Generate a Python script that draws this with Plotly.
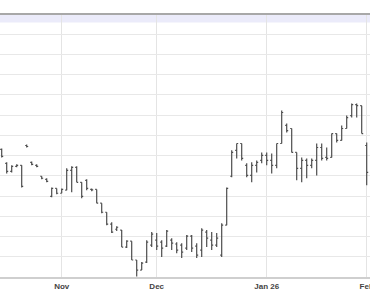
import plotly.graph_objects as go

dates = [
    "2025-10-16", "2025-10-17", "2025-10-20", "2025-10-21", "2025-10-22", "2025-10-23",
    "2025-10-24", "2025-10-27", "2025-10-28", "2025-10-29", "2025-10-30", "2025-10-31",
    "2025-11-03", "2025-11-04", "2025-11-05", "2025-11-06", "2025-11-07", "2025-11-10",
    "2025-11-11", "2025-11-12", "2025-11-13", "2025-11-14", "2025-11-17", "2025-11-18",
    "2025-11-19", "2025-11-20", "2025-11-21", "2025-11-24", "2025-11-25", "2025-11-26",
    "2025-11-28", "2025-12-01", "2025-12-02", "2025-12-03", "2025-12-04", "2025-12-05",
    "2025-12-08", "2025-12-09", "2025-12-10", "2025-12-11", "2025-12-12", "2025-12-15",
    "2025-12-16", "2025-12-17", "2025-12-18", "2025-12-19", "2025-12-22", "2025-12-23",
    "2025-12-24", "2025-12-26", "2025-12-29", "2025-12-30", "2025-12-31", "2026-01-02",
    "2026-01-05", "2026-01-06", "2026-01-07", "2026-01-08", "2026-01-09", "2026-01-12",
    "2026-01-13", "2026-01-14", "2026-01-15", "2026-01-16", "2026-01-20", "2026-01-21",
    "2026-01-22", "2026-01-23", "2026-01-26", "2026-01-27", "2026-01-28", "2026-01-29",
    "2026-01-30", "2026-02-02",
]

open_ = [
    26.31, 25.62, 25.22, 25.47, 25.52, 26.50, 25.67, 25.52, 24.98, 24.83, 23.99, 24.38,
    24.14, 24.29, 25.27, 25.42, 24.68, 24.78, 24.33, 24.33, 23.65, 23.20, 22.61, 22.36,
    22.32, 21.48, 21.77, 20.84, 20.34, 20.74, 21.58, 21.82, 21.72, 21.53, 21.82, 21.63,
    21.58, 21.43, 22.02, 21.53, 21.33, 22.22, 21.82, 21.58, 21.08, 22.56, 24.98, 26.26,
    26.60, 25.52, 25.02, 25.52, 25.76, 26.01, 25.76, 25.52, 26.60, 27.49, 27.34, 26.16,
    25.37, 25.76, 25.52, 25.76, 26.40, 25.91, 25.91, 27.09, 26.75, 27.34, 27.98, 28.52,
    28.47, 26.50,
]
high = [
    26.35, 25.67, 25.52, 25.57, 25.52, 26.55, 25.71, 25.57, 24.98, 24.88, 24.43, 24.38,
    24.38, 25.37, 25.47, 25.47, 24.68, 24.83, 24.38, 24.33, 23.65, 23.20, 22.71, 22.51,
    22.32, 21.82, 21.77, 20.84, 20.74, 21.82, 22.22, 22.17, 21.82, 22.32, 21.92, 21.72,
    21.67, 22.07, 22.07, 21.67, 22.41, 22.32, 22.22, 22.17, 22.66, 24.43, 26.26, 26.60,
    26.60, 25.62, 25.67, 25.76, 26.16, 26.16, 26.11, 26.60, 28.23, 27.59, 27.34, 26.16,
    25.91, 25.86, 25.86, 26.60, 26.60, 26.40, 27.09, 27.09, 27.49, 27.98, 28.57, 28.57,
    28.47, 26.65,
]
low = [
    25.91, 25.12, 25.17, 25.42, 24.43, 26.40, 25.52, 25.42, 24.83, 24.68, 23.94, 24.09,
    24.14, 24.29, 24.19, 24.68, 23.89, 24.29, 24.24, 23.65, 23.15, 22.56, 22.17, 22.27,
    21.48, 21.43, 20.84, 20.02, 20.34, 20.69, 21.48, 21.33, 20.99, 21.48, 21.33, 21.18,
    20.94, 21.33, 21.23, 20.94, 20.99, 21.48, 21.33, 21.48, 20.99, 22.56, 24.93, 25.86,
    25.76, 24.93, 24.68, 25.17, 25.62, 25.52, 25.12, 25.37, 26.60, 27.14, 26.16, 24.78,
    24.68, 24.88, 25.37, 25.02, 25.76, 25.76, 25.91, 26.65, 26.75, 27.34, 27.88, 27.88,
    27.09, 24.53,
]
close = [
    25.96, 25.22, 25.47, 25.52, 24.48, 26.45, 25.57, 25.47, 24.88, 24.73, 24.38, 24.14,
    24.33, 25.27, 25.42, 24.68, 23.99, 24.38, 24.31, 23.65, 23.20, 22.61, 22.22, 22.46,
    21.48, 21.77, 20.84, 20.34, 20.69, 21.72, 22.12, 21.53, 21.43, 22.27, 21.67, 21.33,
    21.23, 22.02, 21.43, 21.08, 22.32, 21.92, 21.58, 21.92, 22.56, 24.38, 26.16, 26.60,
    25.86, 25.02, 25.52, 25.67, 26.01, 25.76, 25.52, 26.60, 28.13, 27.24, 26.16, 25.37,
    25.76, 25.52, 25.76, 26.40, 25.86, 25.86, 27.09, 26.75, 27.34, 27.88, 28.52, 28.47,
    27.09, 25.17,
]

tick_vals = ["2025-11-03", "2025-12-01", "2026-01-02", "2026-02-02"]
tick_text = ["Nov", "Dec", "Jan 26", "Feb"]
holidays = ["2025-11-27", "2025-12-25", "2026-01-01", "2026-01-19"]

bar_color = "#4d4d4d"

fig = go.Figure(
    go.Ohlc(
        x=dates, open=open_, high=high, low=low, close=close,
        increasing=dict(line=dict(color=bar_color, width=1.2)),
        decreasing=dict(line=dict(color=bar_color, width=1.2)),
        tickwidth=0.3,
        showlegend=False,
    )
)

fig.update_layout(
    width=370, height=297,
    margin=dict(l=0, r=0, t=14, b=20, autoexpand=False),
    paper_bgcolor="white", plot_bgcolor="white",
    xaxis=dict(
        type="date",
        automargin=False,
        range=["2025-10-15 15:50", "2026-02-02 15:50"],
        rangebreaks=[dict(bounds=["sat", "mon"]), dict(values=holidays)],
        rangeslider=dict(visible=False),
        tickvals=tick_vals, ticktext=tick_text,
        ticklabeloverflow="allow",
        showgrid=True, gridcolor="#e4e4e4", gridwidth=1,
        showline=True, linecolor="#cfcfcf", linewidth=2,
        ticks="",
        tickfont=dict(family="Liberation Sans, Arial", size=8, color="#444444", weight="bold"),
        zeroline=False,
    ),
    yaxis=dict(
        automargin=False,
        range=[20, 33], dtick=1, tick0=20,
        showgrid=True, gridcolor="#e8e8e8", gridwidth=1,
        showticklabels=False, ticks="", zeroline=False,
    ),
    shapes=[
        dict(type="rect", xref="paper", yref="paper", x0=0, x1=1, y0=0.968, y1=0.996,
             fillcolor="#ebebfa", line=dict(width=0), layer="below"),
        dict(type="line", xref="paper", yref="paper", x0=0, x1=1, y0=1, y1=1,
             line=dict(color="#a8a8a8", width=2)),
    ],
)

fig.write_html("out.html")
